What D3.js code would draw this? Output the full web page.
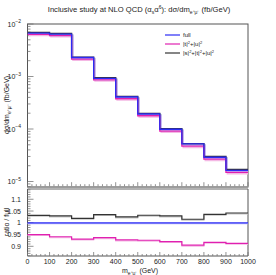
<!DOCTYPE html>
<html><head><meta charset="utf-8">
<script src="https://cdn.jsdelivr.net/npm/d3@7/dist/d3.min.js"></script>
<style>body{margin:0;background:#fff}svg{display:block}text{font-family:"Liberation Sans",Arial,sans-serif;fill:#222}</style>
</head><body><svg id="c" width="276" height="275"></svg>
<script>
const binEdges = [0,100,200,300,400,500,600,700,800,900,1000];
const full = [6.7e-3,6.4e-3,2.3e-3,9.2e-4,4.07e-4,1.93e-4,9.9e-5,5.2e-5,2.9e-5,1.63e-5];
const tu   = [6.365e-3,6.02e-3,2.141e-3,8.62e-4,3.773e-4,1.787e-4,9.11e-5,4.706e-5,2.659e-5,1.488e-5];
const stu  = [6.914e-3,6.586e-3,2.344e-3,9.522e-4,4.172e-4,1.992e-4,1.019e-4,5.278e-5,3.004e-5,1.698e-5];
const xTicks = [0,100,200,300,400,500,600,700,800,900,1000];
const yTicksUpper = [-2,-3,-4,-5];
const yTicksRatio = [0.9,0.95,1,1.05,1.1];
const seriesNames = ["full","|t|²+|u|²","|s|²+|t|²+|u|²"];

const colors = {full:"#2b2bf5", tu:"#e020b0", stu:"#333333"};
const svg = d3.select("#c");
const L=27.5, R=248, T1=24, B1=187, T2=189, B2=256;
const x = d3.scaleLinear().domain([0,1000]).range([L,R]);
const y1 = d3.scaleLog().domain([7.86e-6,1e-2]).range([B1,T1]);
const y2 = d3.scaleLinear().domain([0.8589,1.1436]).range([B2,T2]);

// title
const title = svg.append("text").attr("x",139).attr("y",12).attr("text-anchor","middle").attr("font-size",7.6);
title.append("tspan").text("Inclusive study at NLO QCD (α");
title.append("tspan").attr("font-size",5).attr("dy",1.5).text("s");
title.append("tspan").attr("dy",-1.5).text("α");
title.append("tspan").attr("font-size",5).attr("dy",-3).text("6");
title.append("tspan").attr("dy",3).text("): dσ/dm");
title.append("tspan").attr("font-size",5).attr("dy",1.5).text("e⁺μ⁻");
title.append("tspan").attr("dy",-1.5).text(" (fb/GeV)");

// frames
const gray="#555";
svg.append("rect").attr("x",L).attr("y",T1).attr("width",R-L).attr("height",B1-T1).attr("fill","none").attr("stroke",gray).attr("stroke-width",1);
svg.append("line").attr("x1",L).attr("x2",R).attr("y1",B1).attr("y2",B1).attr("stroke","#999").attr("stroke-width",1.6);
svg.append("line").attr("x1",L).attr("x2",R).attr("y1",T2).attr("y2",T2).attr("stroke","#999").attr("stroke-width",1.6);
svg.append("line").attr("x1",L).attr("x2",L).attr("y1",T2).attr("y2",B2).attr("stroke",gray);
svg.append("line").attr("x1",R).attr("x2",R).attr("y1",T2).attr("y2",B2).attr("stroke",gray);
svg.append("line").attr("x1",L).attr("x2",R).attr("y1",B2).attr("y2",B2).attr("stroke",gray);

// x minor/major ticks (bottom of both panels)
const tickCol="#777";
[B1-0.8,B2].forEach(yb=>{
  for(let v=0; v<=1000; v+=20){
    const major = v%100===0;
    svg.append("line").attr("x1",x(v)).attr("x2",x(v)).attr("y1",yb).attr("y2",yb-(major?4:2))
      .attr("stroke",tickCol).attr("stroke-width",0.8);
  }
});
// upper y ticks
for(let e=-5;e<=-3;e++){
  for(let m=1;m<=9;m++){
    const v=m*Math.pow(10,e);
    const len = m===1?6:3;
    svg.append("line").attr("x1",L).attr("x2",L+len).attr("y1",y1(v)).attr("y2",y1(v)).attr("stroke",tickCol).attr("stroke-width",0.8);
  }
}
svg.append("line").attr("x1",L).attr("x2",L+6).attr("y1",y1(1e-2)).attr("y2",y1(1e-2)).attr("stroke",tickCol).attr("stroke-width",0.8);
for(let m=8;m<=9;m++){const v=m*1e-6; svg.append("line").attr("x1",L).attr("x2",L+3).attr("y1",y1(v)).attr("y2",y1(v)).attr("stroke",tickCol).attr("stroke-width",0.8);}
yTicksUpper.forEach(e=>{
  const t=svg.append("text").attr("x",21).attr("y",y1(Math.pow(10,e))+2.5).attr("text-anchor","end").attr("font-size",7);
  t.append("tspan").text("10");
  t.append("tspan").attr("font-size",5).attr("dy",-3.5).text("−"+(-e));
});
// ratio y ticks
for(let i=86;i<=114;i++){
  const v=i/100; const major = i%5===0;
  svg.append("line").attr("x1",L).attr("x2",L+(major?6:3)).attr("y1",y2(v)).attr("y2",y2(v)).attr("stroke",tickCol).attr("stroke-width",0.8);
}
yTicksRatio.forEach(v=>{
  svg.append("text").attr("x",21).attr("y",y2(v)+2.5).attr("text-anchor","end").attr("font-size",7).text(d3.format("")(v));
});
// x tick labels
xTicks.forEach(v=>{
  svg.append("text").attr("x",x(v)).attr("y",263.5).attr("text-anchor","middle").attr("font-size",7).text(v);
});
// x label
const xl=svg.append("text").attr("x",140).attr("y",273).attr("text-anchor","middle").attr("font-size",7);
xl.append("tspan").text("m");
xl.append("tspan").attr("font-size",5).attr("dy",1.5).text("e⁺μ⁻");
xl.append("tspan").attr("dy",-1.5).text(" (GeV)");
// y labels
const yl=svg.append("text").attr("transform","translate(9,105) rotate(-90)").attr("text-anchor","middle").attr("font-size",7);
yl.append("tspan").text("dσ/dm");
yl.append("tspan").attr("font-size",5).attr("dy",1.5).text("e⁺μ⁻");
yl.append("tspan").attr("dy",-1.5).text(" (fb/GeV)");
svg.append("text").attr("transform","translate(9,222) rotate(-90)").attr("text-anchor","middle").attr("font-size",7).text("ratio / full");

// series
function pts(vals){ const p = vals.map((v,i)=>[binEdges[i],v]); p.push([binEdges[binEdges.length-1],vals[vals.length-1]]); return p; }
const lineU = d3.line().x(d=>x(d[0])).y(d=>y1(d[1])).curve(d3.curveStepAfter);
const lineR = d3.line().x(d=>x(d[0])).y(d=>y2(d[1])).curve(d3.curveStepAfter);
const series = [
  {key:"stu", vals:stu, shadow:"#c8c8c8"},
  {key:"tu", vals:tu, shadow:"#f4b8e4"},
  {key:"full", vals:full, shadow:"#b8b8f8"}
];
svg.append("clipPath").attr("id","cu").append("rect").attr("x",L).attr("y",T1).attr("width",R-L).attr("height",B1-T1);
const gU = svg.append("g").attr("clip-path","url(#cu)");
series.forEach(s=>{
  gU.append("path").attr("d",lineU(pts(s.vals))).attr("transform","translate(1.3,1.3)").attr("fill","none").attr("stroke",s.shadow).attr("stroke-width",1.3);
});
series.forEach(s=>{
  gU.append("path").attr("d",lineU(pts(s.vals))).attr("fill","none").attr("stroke",colors[s.key]).attr("stroke-width",1.3);
});
const ratios = {
  full: full.map((v,i)=>v/full[i]),
  tu: tu.map((v,i)=>v/full[i]),
  stu: stu.map((v,i)=>v/full[i])
};
series.forEach(s=>{
  svg.append("path").attr("d",lineR(pts(ratios[s.key]))).attr("transform","translate(0,0.9)").attr("fill","none").attr("stroke",s.shadow).attr("stroke-width",1.2);
});
series.forEach(s=>{
  svg.append("path").attr("d",lineR(pts(ratios[s.key]))).attr("fill","none").attr("stroke",colors[s.key]).attr("stroke-width",1.2);
});

// legend
const legY=[35,44,53];
["full","tu","stu"].forEach((k,i)=>{
  svg.append("line").attr("x1",165).attr("x2",180).attr("y1",legY[i]).attr("y2",legY[i]).attr("stroke",colors[k]).attr("stroke-width",1.2);
});
svg.append("text").attr("x",183).attr("y",legY[0]+2.2).attr("font-size",6).text(seriesNames[0]);
// legend labels with raised "2" superscripts: split label on "²"
function richLabel(yy,label){
  const t=svg.append("text").attr("x",183).attr("y",yy).attr("font-size",6);
  const parts=label.split("²");
  parts.forEach((p,i)=>{
    if(p.length){ const ts=t.append("tspan").attr("y",yy).text(p); }
    if(i<parts.length-1){ t.append("tspan").attr("y",yy-2.3).attr("font-size",4).text("2"); }
  });
}
richLabel(legY[1]+2.2, seriesNames[1]);
richLabel(legY[2]+2.2, seriesNames[2]);
</script></body></html>
